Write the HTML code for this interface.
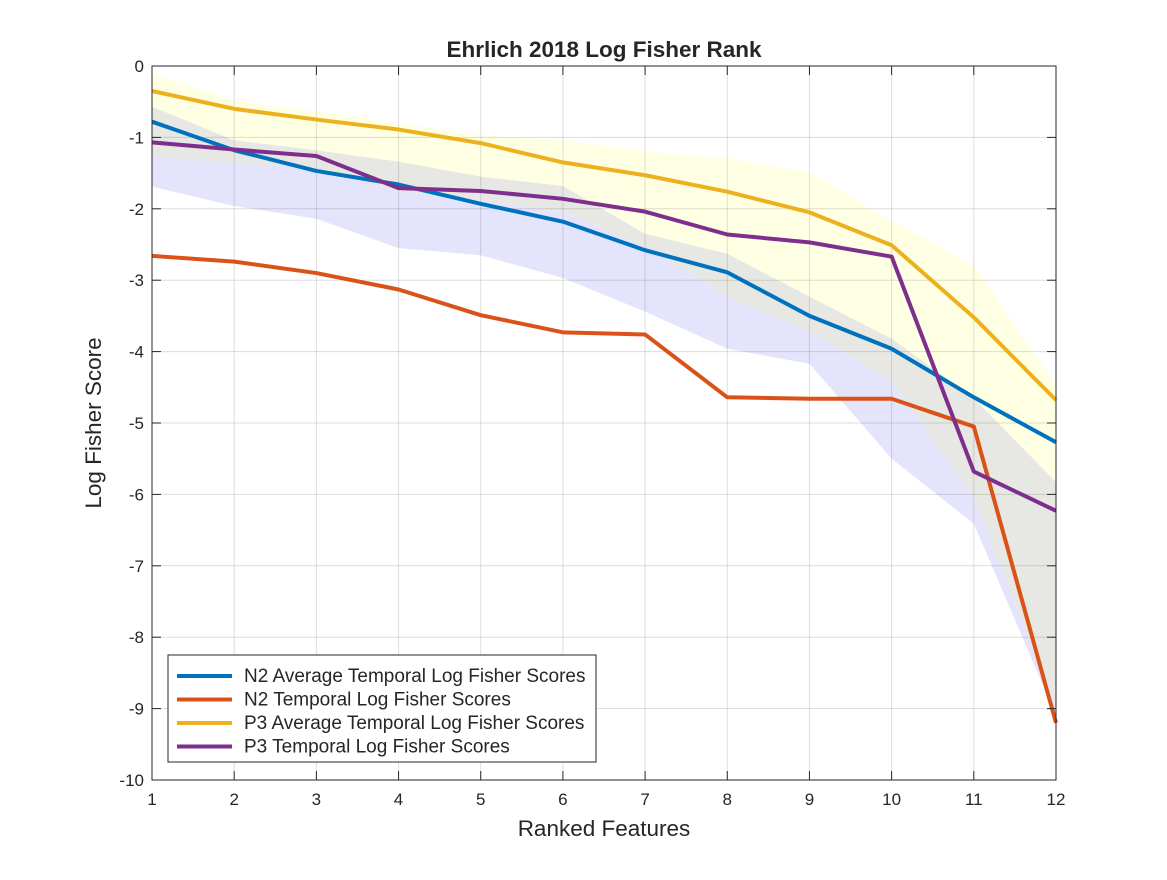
<!DOCTYPE html>
<html><head><meta charset="utf-8"><style>
body{margin:0;background:#fff;}
svg text{font-family:"Liberation Sans",Arial,sans-serif;fill:#262626;}
</style></head><body>
<svg id="chart" width="1167" height="875" xmlns="http://www.w3.org/2000/svg">
<rect width="1167" height="875" fill="#fff"/>
<g id="bands"></g><g id="grid"></g><g id="lines"></g><g id="axes"></g>
</svg>
<script>
const xs=[1,2,3,4,5,6,7,8,9,10,11,12];
const yTicks=[0,-1,-2,-3,-4,-5,-6,-7,-8,-9,-10];
const n2Avg=[-0.78,-1.18,-1.47,-1.66,-1.93,-2.18,-2.58,-2.89,-3.50,-3.96,-4.64,-5.27];
const n2Temp=[-2.66,-2.74,-2.9,-3.13,-3.49,-3.73,-3.76,-4.64,-4.66,-4.66,-5.05,-9.2];
const p3Avg=[-0.35,-0.6,-0.75,-0.89,-1.08,-1.35,-1.53,-1.76,-2.05,-2.51,-3.52,-4.68];
const p3Temp=[-1.07,-1.17,-1.26,-1.71,-1.75,-1.86,-2.04,-2.36,-2.47,-2.67,-5.68,-6.23];
const yellowUpper=[-0.11,-0.48,-0.64,-0.8,-0.97,-1.04,-1.20,-1.29,-1.49,-2.17,-2.79,-4.47];
const grayUpper=[-0.57,-1.04,-1.18,-1.34,-1.55,-1.68,-2.35,-2.63,-3.23,-3.82,-4.65,-5.83];
const grayLower=[-1.27,-1.36,-1.43,-1.76,-1.88,-2.05,-2.52,-3.23,-3.73,-4.41,-6.06,-8.95];
const blueLower=[-1.69,-1.96,-2.14,-2.55,-2.65,-2.97,-3.44,-3.96,-4.17,-5.50,-6.41,-9.1];
const legendLabels=["N2 Average Temporal Log Fisher Scores","N2 Temporal Log Fisher Scores","P3 Average Temporal Log Fisher Scores","P3 Temporal Log Fisher Scores"];

const NS="http://www.w3.org/2000/svg";
const L=152,R=1056,T=66,B=780;
const X=v=>L+(v-1)*(R-L)/11;
const Y=v=>T+(0-v)*(B-T)/10;
function mk(tag,attrs,parent){const e=document.createElementNS(NS,tag);for(const k in attrs)e.setAttribute(k,attrs[k]);parent.appendChild(e);return e;}
const bands=document.getElementById('bands'),grid=document.getElementById('grid'),lines=document.getElementById('lines'),axes=document.getElementById('axes');
function band(up,lo,color,name){
  const pts=xs.map((x,i)=>X(x)+','+Y(up[i])).concat(xs.slice().reverse().map((x,j)=>{const i=xs.length-1-j;return X(x)+','+Y(lo[i]);}));
  const p=mk('polygon',{points:pts.join(' '),fill:color},bands);
  
  
}
band(yellowUpper,grayUpper,'#ffffe4','p3-band');
band(grayUpper,grayLower,'#e7e8e3','n2-band');
band(grayLower,blueLower,'#e4e4fc','lower-band');
xs.forEach(x=>{const l=mk('line',{x1:X(x),x2:X(x),y1:T,y2:B,stroke:'#000','stroke-opacity':0.13,'stroke-width':1},grid);

});
yTicks.forEach(v=>{const l=mk('line',{x1:L,x2:R,y1:Y(v),y2:Y(v),stroke:'#000','stroke-opacity':0.13,'stroke-width':1},grid);

});
const series=[[n2Avg,'#0072bd','n2-average-line'],[n2Temp,'#d95319','n2-temporal-line'],[p3Avg,'#edb120','p3-average-line'],[p3Temp,'#7e2f8e','p3-temporal-line']];
series.forEach(s=>{const p=mk('polyline',{points:xs.map((x,i)=>X(x)+','+Y(s[0][i])).join(' '),fill:'none',stroke:s[1],'stroke-width':4,'stroke-linejoin':'round'},lines);

});
const frame=mk('rect',{x:L,y:T,width:R-L,height:B-T,fill:'none',stroke:'#262626','stroke-width':1},axes);


xs.forEach(x=>{mk('line',{x1:X(x),x2:X(x),y1:B,y2:B-9,stroke:'#262626'},axes);mk('line',{x1:X(x),x2:X(x),y1:T,y2:T+9,stroke:'#262626'},axes);
const t=mk('text',{x:X(x),y:B+25,'text-anchor':'middle','font-size':17},axes);t.textContent=x;

});
yTicks.forEach(v=>{mk('line',{x1:L,x2:L+9,y1:Y(v),y2:Y(v),stroke:'#262626'},axes);mk('line',{x1:R,x2:R-9,y1:Y(v),y2:Y(v),stroke:'#262626'},axes);
const t=mk('text',{x:L-8,y:Y(v)+6,'text-anchor':'end','font-size':17},axes);t.textContent=v;

});
let t=mk('text',{x:604,y:57,'text-anchor':'middle','font-size':22.5,'font-weight':'bold','fill':'#000'},axes);t.textContent='Ehrlich 2018 Log Fisher Rank';


t=mk('text',{x:604,y:836,'text-anchor':'middle','font-size':22.5},axes);t.textContent='Ranked Features';


t=mk('text',{x:0,y:0,'text-anchor':'middle','font-size':22.5,transform:'translate(101,423) rotate(-90)'},axes);t.textContent='Log Fisher Score';


const lg=mk('g',{},axes);


mk('rect',{x:168,y:655,width:428,height:107,fill:'#fff',stroke:'#262626','stroke-width':1},lg);
legendLabels.forEach((lab,i)=>{const y=676+i*23.5;
const e=mk('g',{},lg);


mk('line',{x1:177,x2:232,y1:y,y2:y,stroke:series[i][1],'stroke-width':4},e);
const tt=mk('text',{x:244,y:y+6,'font-size':19,'fill':'#000'},e);tt.textContent=lab;});
</script>
</body></html>
